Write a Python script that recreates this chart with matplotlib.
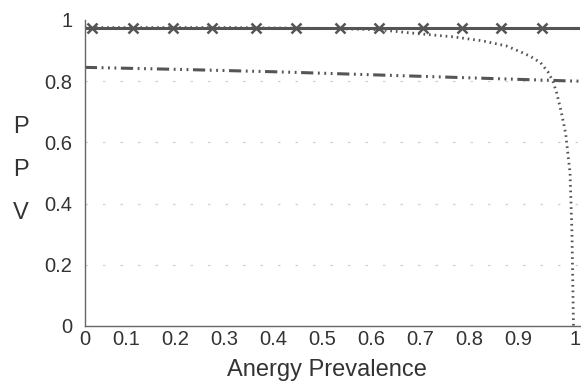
import matplotlib.pyplot as plt
import matplotlib.transforms as mtransforms

# values
x_solid = [0.0, 0.014, 0.098, 0.18, 0.26, 0.35, 0.43, 0.52, 0.60, 0.69, 0.77, 0.85, 0.933, 1.0, 1.01]
y_solid = [0.975, 0.975, 0.975, 0.975, 0.975, 0.975, 0.975, 0.975, 0.975, 0.975, 0.975, 0.975, 0.975, 0.975, 0.975]

x_dotted = [0.0, 0.3, 0.5, 0.6, 0.68, 0.75, 0.81, 0.86, 0.89, 0.91, 0.93, 0.945, 0.955, 0.963, 0.972, 0.981, 0.99, 0.994, 0.997]
y_dotted = [0.975, 0.975, 0.972, 0.968, 0.955, 0.945, 0.932, 0.915, 0.895, 0.88, 0.86, 0.83, 0.80, 0.76, 0.70, 0.63, 0.50, 0.30, 0.0]

x_dashdot = [0.0, 0.2, 0.4, 0.6, 0.8, 0.9, 1.0, 1.01]
y_dashdot = [0.845, 0.838, 0.83, 0.82, 0.81, 0.805, 0.80, 0.80]

x_ticks = [0, 0.1, 0.2, 0.3, 0.4, 0.5, 0.6, 0.7, 0.8, 0.9, 1]
x_tick_labels = ['0', '0.1', '0.2', '0.3', '0.4', '0.5', '0.6', '0.7', '0.8', '0.9', '1']
y_ticks = [0, 0.2, 0.4, 0.6, 0.8, 1]
y_tick_labels = ['0', '0.2', '0.4', '0.6', '0.8', '1']

plt.rcParams['font.family'] = ['Liberation Sans', 'DejaVu Sans']

fig = plt.figure(figsize=(5.81, 3.83), dpi=100)
ax = fig.add_axes([0.146, 0.149, 0.852, 0.799])

# faint broken grid lines of the scan
for v in y_ticks[1:-1]:
    ax.axhline(v, color='#d0d0d0', lw=0.9, ls=(0, (2, 12)), zorder=0)

ax.plot(x_dashdot, y_dashdot, color='#555555', lw=2.2,
        ls=(0, (4, 1.5, 0.6, 1.5, 0.6, 1.5, 0.6, 1.5)))
ax.plot(x_dotted, y_dotted, color='#555555', lw=2.0, ls=(0, (0.6, 1.4)))
ax.plot(x_solid[:-1], y_solid[:-1], color='#555555', lw=2.2, marker='x',
        ms=6.5, mew=1.8, markevery=list(range(1, len(x_solid) - 2)))
ax.plot(x_solid[-2:], y_solid[-2:], color='#555555', lw=2.2)

ax.set_xlim(0, 1.01)
ax.set_ylim(0, 1.0)
ax.set_xticks(x_ticks)
ax.set_xticklabels(x_tick_labels)
ax.set_yticks(y_ticks)
ax.set_yticklabels(y_tick_labels)
ax.tick_params(axis='both', length=0, labelsize=14.5, colors='#333333')
ax.tick_params(axis='y', pad=9)
ax.tick_params(axis='x', pad=3)

# the scanned tick labels 0.1 .. 0.9 sit a little left of their positions
shift = mtransforms.ScaledTranslation(-8 / 100, 0, fig.dpi_scale_trans)
for lab in ax.get_xticklabels()[1:-1]:
    lab.set_transform(lab.get_transform() + shift)

for side in ['top', 'right']:
    ax.spines[side].set_visible(False)
for side in ['left', 'bottom']:
    ax.spines[side].set_color('#666666')
    ax.spines[side].set_linewidth(1.0)

ax.set_xlabel('Anergy Prevalence', fontsize=17, color='#333333')
ax.xaxis.set_label_coords(0.49, -0.108)
ax.xaxis.label.set_va('top')
fig.text(0.036, 0.556, 'P\nP\nV', fontsize=17, color='#333333',
         ha='center', va='center', linespacing=2.25)

fig.savefig('out.png', dpi=100)
